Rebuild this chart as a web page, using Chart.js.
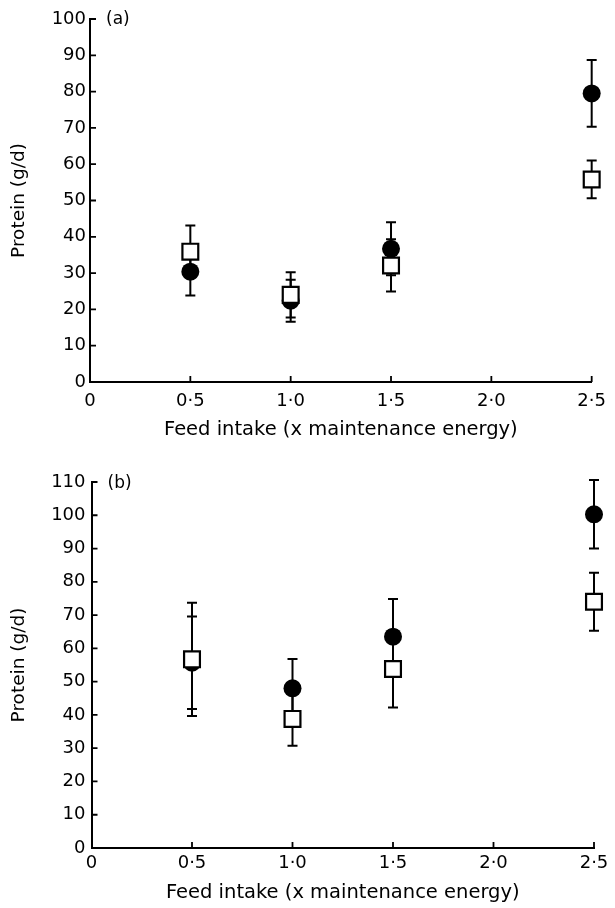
<!DOCTYPE html>
<html>
<head>
<meta charset="utf-8">
<script src="https://cdn.jsdelivr.net/npm/chart.js@4"></script>
<style>
  html, body { margin: 0; padding: 0; background: #fff; }
  #wrapA { position: absolute; left: 0; top: 0; width: 615px; height: 450px; }
  #wrapB { position: absolute; left: 0; top: 450px; width: 615px; height: 458px; }
</style>
</head>
<body>
<div id="wrapA"><canvas id="chartA" width="615" height="450"></canvas></div>
<div id="wrapB"><canvas id="chartB" width="615" height="458"></canvas></div>
<script>
// feed intake levels (x maintenance energy)
var feedIntake = [0.5, 1.0, 1.5, 2.5];

// panel (a)
var aFilledMean = [30.4, 22.4, 36.7, 79.5];
var aFilledErr  = [6.6, 5.8, 7.3, 9.2];
var aOpenMean   = [35.9, 24.0, 32.1, 55.8];
var aOpenErr    = [7.2, 6.2, 7.2, 5.2];

// panel (b)
var bFilledMean = [55.7, 48.0, 63.5, 100.3];
var bFilledErr  = [13.9, 8.8, 11.3, 10.3];
var bOpenMean   = [56.7, 38.8, 53.8, 74.0];
var bOpenErr    = [17.0, 8.1, 11.6, 8.7];

var xLabel = 'Feed intake (x maintenance energy)';
var yLabel = 'Protein (g/d)';

Chart.defaults.font.family = 'DejaVu Sans';
Chart.defaults.color = '#000';

function pts(means) {
    return feedIntake.map(function(x, i) { return {x: x, y: means[i]}; });
}

function fmtX(v) {
    if (v === 0) return '0';
    return Number(v).toFixed(1).replace('.', '\u00b7');
}

// error bars, inward ticks and the panel letter
var extras = {
    id: 'extras',
    beforeDatasetsDraw: function(chart, args, opts) {
        var ctx = chart.ctx;
        var xs = chart.scales.x, ys = chart.scales.y;
        ctx.save();
        ctx.strokeStyle = '#000';
        ctx.lineWidth = 1.8;
        ctx.beginPath();
        ys.ticks.forEach(function(t) {
            if (t.value === 0) return;
            var py = ys.getPixelForValue(t.value);
            ctx.moveTo(xs.left, py);
            ctx.lineTo(xs.left + 6, py);
        });
        xs.ticks.forEach(function(t) {
            if (t.value === 0) return;
            var px = xs.getPixelForValue(t.value);
            ctx.moveTo(px, ys.bottom);
            ctx.lineTo(px, ys.bottom - 6);
        });
        ctx.stroke();

        ctx.lineWidth = 2;
        chart.data.datasets.forEach(function(ds) {
            ds.data.forEach(function(p, i) {
                var px = xs.getPixelForValue(p.x);
                var hi = ys.getPixelForValue(p.y + ds.errors[i]);
                var lo = ys.getPixelForValue(p.y - ds.errors[i]);
                ctx.beginPath();
                ctx.moveTo(px, hi); ctx.lineTo(px, lo);
                ctx.moveTo(px - 5, hi); ctx.lineTo(px + 5, hi);
                ctx.moveTo(px - 5, lo); ctx.lineTo(px + 5, lo);
                ctx.stroke();
            });
        });

        ctx.font = '17px "DejaVu Sans"';
        ctx.fillStyle = '#000';
        ctx.textBaseline = 'middle';
        ctx.textAlign = 'left';
        ctx.fillText(opts.label, chart.chartArea.left + 16, chart.chartArea.top + opts.dy);
        ctx.restore();
    }
};

function makeChart(id, filled, filledErr, open, openErr, cfg) {
    return new Chart(document.getElementById(id).getContext('2d'), {
        type: 'scatter',
        data: {
            datasets: [{
                label: 'open',
                data: pts(open),
                errors: openErr,
                order: 0,
                pointStyle: 'rect',
                pointRadius: 11.2,
                pointBackgroundColor: '#fff',
                pointBorderColor: '#000',
                pointBorderWidth: 2.2,
                clip: false
            }, {
                label: 'filled',
                data: pts(filled),
                errors: filledErr,
                order: 1,
                pointStyle: 'circle',
                pointRadius: 9,
                pointBackgroundColor: '#000',
                pointBorderColor: '#000',
                pointBorderWidth: 0,
                clip: false
            }]
        },
        options: {
            responsive: false,
            animation: false,
            devicePixelRatio: 1,
            layout: { padding: { top: cfg.top, right: cfg.right, left: 0, bottom: 0 } },
            plugins: {
                legend: { display: false },
                tooltip: { enabled: false },
                extras: { label: cfg.label, dy: cfg.dy }
            },
            scales: {
                x: {
                    type: 'linear',
                    min: 0,
                    max: 2.5,
                    afterFit: function(s) { s.height = cfg.xHeight; },
                    border: { display: true, color: '#000', width: 2 },
                    grid: { display: false, drawTicks: false },
                    ticks: { stepSize: 0.5, padding: cfg.xPad, maxRotation: 0, font: { size: 18 }, callback: fmtX },
                    title: { display: true, text: xLabel, font: { size: 19.5 }, padding: { top: 0, bottom: cfg.xTitlePad } }
                },
                y: {
                    type: 'linear',
                    min: 0,
                    max: cfg.yMax,
                    afterFit: function(s) { s.width = cfg.yWidth; },
                    border: { display: true, color: '#000', width: 2 },
                    grid: { display: false, drawTicks: false },
                    ticks: { stepSize: 10, padding: cfg.yPad, font: { size: 18 } },
                    title: { display: true, text: yLabel, font: { size: 18.5 }, padding: { top: 8, bottom: 0 } }
                }
            }
        },
        plugins: [extras]
    });
}

makeChart('chartA', aFilledMean, aFilledErr, aOpenMean, aOpenErr,
    { label: '(a)', dy: 1, top: 19, right: 18, yMax: 100, yWidth: 90, xHeight: 68, xPad: 9, xTitlePad: 8, yPad: 4 });

makeChart('chartB', bFilledMean, bFilledErr, bOpenMean, bOpenErr,
    { label: '(b)', dy: 2, top: 32, right: 21, yMax: 110, yWidth: 91.5, xHeight: 60, xPad: 5, xTitlePad: 3, yPad: 6 });
</script>
</body>
</html>
